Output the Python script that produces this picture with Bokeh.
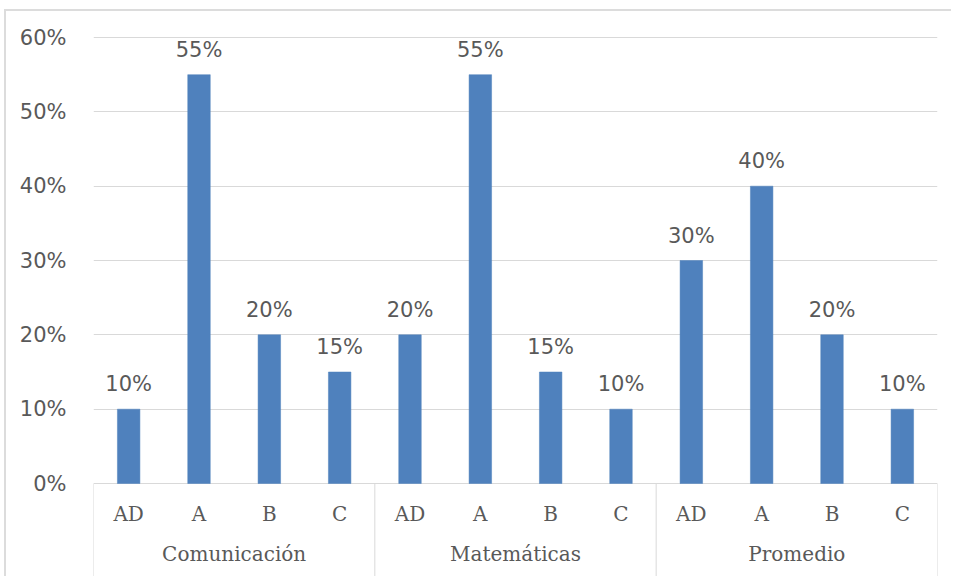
from bokeh.plotting import figure
from bokeh.models import FactorRange, Range1d, FixedTicker
from bokeh.core.properties import value
from bokeh.embed import file_html
from bokeh.resources import INLINE

groups = ["Comunicación", "Matemáticas", "Promedio"]
levels = ["AD", "A", "B", "C"]
comunicacion = [0.10, 0.55, 0.20, 0.15]
matematicas = [0.20, 0.55, 0.15, 0.10]
promedio = [0.30, 0.40, 0.20, 0.10]
y_ticks = [0, 0.1, 0.2, 0.3, 0.4, 0.5, 0.6]
y_tick_labels = ["0%", "10%", "20%", "30%", "40%", "50%", "60%"]

series = [comunicacion, matematicas, promedio]
factors = [(g, l) for g in groups for l in levels]
values = [v for s in series for v in s]
value_labels = ["%d%%" % round(v * 100) for v in values]

BAR = "#4F81BD"
GRID = "#d9d9d9"
TXT = "#595959"

y_start, y_end = -0.1278, 0.635

p = figure(
    x_range=FactorRange(*factors, factor_padding=0, group_padding=0,
                        subgroup_padding=0, range_padding=0),
    y_range=Range1d(y_start, y_end),
    width=947, height=567,
    output_backend="svg", toolbar_location=None,
    x_axis_location=None,
    min_border_left=87, min_border_right=16, min_border_top=0, min_border_bottom=0,
)
p.styles = {"margin": "9px 0 0 4px",
            "border-top": "2px solid #dcdcdc", "border-left": "2px solid #dcdcdc"}
p.outline_line_color = None
p.xgrid.grid_line_color = None
p.background_fill_color = "white"
p.border_fill_color = "white"

ticker = FixedTicker(ticks=y_ticks)
p.yaxis.ticker = ticker
p.yaxis.major_label_overrides = {t: lab for t, lab in zip(y_ticks, y_tick_labels)}
p.yaxis.axis_line_color = None
p.yaxis.major_tick_line_color = None
p.yaxis.minor_tick_line_color = None
p.yaxis.major_label_standoff = 21
p.yaxis.major_label_text_font = "DejaVu Sans"
p.yaxis.major_label_text_font_size = "21px"
p.yaxis.major_label_text_color = TXT
p.ygrid.ticker = ticker
p.ygrid.grid_line_color = GRID
p.ygrid.grid_line_width = 1

# bars
p.vbar(x=factors, top=values, width=0.32, fill_color=BAR, line_color=BAR, line_width=0.5)

# data labels
p.text(x=factors, y=values, text=value_labels, text_align="center", text_baseline="bottom",
       y_offset=-13, text_font=value("DejaVu Sans"), text_font_size="21px", text_color=TXT)

# category separators
sep_x = [(g, levels[0], -0.5) for g in groups] + [(groups[-1], levels[-1], 0.5)]
p.segment(x0=sep_x, y0=[0] * len(sep_x), x1=sep_x, y1=[y_start] * len(sep_x),
          line_color=GRID, line_width=1)

# subcategory labels
p.text(x=factors, y=[0] * len(factors), text=[f[1] for f in factors], text_align="center",
       text_baseline="middle", y_offset=30, text_font=value("DejaVu Serif"),
       text_font_size="20px", text_color=TXT)

# group labels
p.text(x=groups, y=[0] * len(groups), text=groups, text_align="center",
       text_baseline="middle", y_offset=70, text_font=value("DejaVu Serif"),
       text_font_size="20px", text_color=TXT)

open("out.html", "w").write(file_html(p, INLINE))
